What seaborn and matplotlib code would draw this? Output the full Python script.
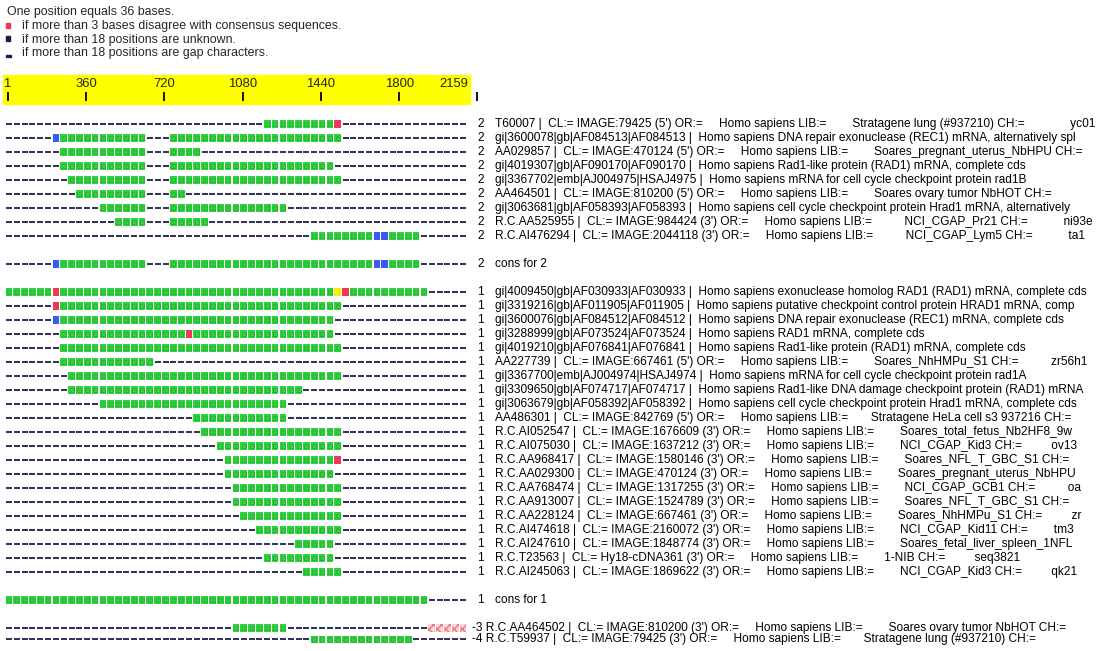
import numpy as np
import pandas as pd
import matplotlib
matplotlib.use("Agg")
import matplotlib.pyplot as plt
from matplotlib.patches import Rectangle
import seaborn as sns

# alignment rows, run-length coded per 36-base position:
# "-" gap, G agrees, R >3 bases disagree, B unknown, Y other, X hatched
group2_labels = [
    "T60007 |  CL:= IMAGE:79425 (5') OR:=     Homo sapiens LIB:=        Stratagene lung (#937210) CH:=              yc01",
    "gi|3600078|gb|AF084513|AF084513 |  Homo sapiens DNA repair exonuclease (REC1) mRNA, alternatively spl",
    "AA029857 |  CL:= IMAGE:470124 (5') OR:=     Homo sapiens LIB:=        Soares_pregnant_uterus_NbHPU CH:=",
    "gi|4019307|gb|AF090170|AF090170 |  Homo sapiens Rad1-like protein (RAD1) mRNA, complete cds",
    "gi|3367702|emb|AJ004975|HSAJ4975 |  Homo sapiens mRNA for cell cycle checkpoint protein rad1B",
    "AA464501 |  CL:= IMAGE:810200 (5') OR:=     Homo sapiens LIB:=        Soares ovary tumor NbHOT CH:=",
    "gi|3063681|gb|AF058393|AF058393 |  Homo sapiens cell cycle checkpoint protein Hrad1 mRNA, alternatively",
    "R.C.AA525955 |  CL:= IMAGE:984424 (3') OR:=     Homo sapiens LIB:=          NCI_CGAP_Pr21 CH:=           ni93e",
    "R.C.AI476294 |  CL:= IMAGE:2044118 (3') OR:=     Homo sapiens LIB:=          NCI_CGAP_Lym5 CH:=           ta1",
]
group2_runs = [
    "33- 9G 1R 16-",
    "6- 1B 11G 3- 22G 16-",
    "7- 11G 3- 4G 34-",
    "7- 11G 3- 21G 17-",
    "8- 10G 3- 22G 16-",
    "9- 9G 3- 2G 36-",
    "12- 6G 3- 15G 23-",
    "14- 4G 3- 5G 33-",
    "39- 8G 2B 4G 6-",
]
cons2_runs = "6- 1B 11G 3- 26G 2B 4G 6-"

group1_labels = [
    "gi|4009450|gb|AF030933|AF030933 |  Homo sapiens exonuclease homolog RAD1 (RAD1) mRNA, complete cds",
    "gi|3319216|gb|AF011905|AF011905 |  Homo sapiens putative checkpoint control protein HRAD1 mRNA, comp",
    "gi|3600076|gb|AF084512|AF084512 |  Homo sapiens DNA repair exonuclease (REC1) mRNA, complete cds",
    "gi|3288999|gb|AF073524|AF073524 |  Homo sapiens RAD1 mRNA, complete cds",
    "gi|4019210|gb|AF076841|AF076841 |  Homo sapiens Rad1-like protein (RAD1) mRNA, complete cds",
    "AA227739 |  CL:= IMAGE:667461 (5') OR:=     Homo sapiens LIB:=        Soares_NhHMPu_S1 CH:=          zr56h1",
    "gi|3367700|emb|AJ004974|HSAJ4974 |  Homo sapiens mRNA for cell cycle checkpoint protein rad1A",
    "gi|3309650|gb|AF074717|AF074717 |  Homo sapiens Rad1-like DNA damage checkpoint protein (RAD1) mRNA",
    "gi|3063679|gb|AF058392|AF058392 |  Homo sapiens cell cycle checkpoint protein Hrad1 mRNA, complete cds",
    "AA486301 |  CL:= IMAGE:842769 (5') OR:=     Homo sapiens LIB:=       Stratagene HeLa cell s3 937216 CH:=",
    "R.C.AI052547 |  CL:= IMAGE:1676609 (3') OR:=     Homo sapiens LIB:=        Soares_total_fetus_Nb2HF8_9w",
    "R.C.AI075030 |  CL:= IMAGE:1637212 (3') OR:=     Homo sapiens LIB:=        NCI_CGAP_Kid3 CH:=         ov13",
    "R.C.AA968417 |  CL:= IMAGE:1580146 (3') OR:=     Homo sapiens LIB:=        Soares_NFL_T_GBC_S1 CH:=",
    "R.C.AA029300 |  CL:= IMAGE:470124 (3') OR:=     Homo sapiens LIB:=        Soares_pregnant_uterus_NbHPU",
    "R.C.AA768474 |  CL:= IMAGE:1317255 (3') OR:=     Homo sapiens LIB:=        NCI_CGAP_GCB1 CH:=          oa",
    "R.C.AA913007 |  CL:= IMAGE:1524789 (3') OR:=     Homo sapiens LIB:=        Soares_NFL_T_GBC_S1 CH:=",
    "R.C.AA228124 |  CL:= IMAGE:667461 (3') OR:=     Homo sapiens LIB:=        Soares_NhHMPu_S1 CH:=         zr",
    "R.C.AI474618 |  CL:= IMAGE:2160072 (3') OR:=     Homo sapiens LIB:=        NCI_CGAP_Kid11 CH:=        tm3",
    "R.C.AI247610 |  CL:= IMAGE:1848774 (3') OR:=     Homo sapiens LIB:=        Soares_fetal_liver_spleen_1NFL",
    "R.C.T23563 |  CL:= Hy18-cDNA361 (3') OR:=     Homo sapiens LIB:=        1-NIB CH:=         seq3821",
    "R.C.AI245063 |  CL:= IMAGE:1869622 (3') OR:=     Homo sapiens LIB:=        NCI_CGAP_Kid3 CH:=         qk21",
]
group1_runs = [
    "6G 1R 35G 1Y 1R 10G 5-",
    "6- 1R 36G 16-",
    "6- 1B 35G 17-",
    "7- 16G 1R 18G 17-",
    "7- 36G 16-",
    "7- 12G 40-",
    "8- 35G 16-",
    "8- 30G 21-",
    "12- 24G 23-",
    "24- 12G 23-",
    "25- 18G 16-",
    "27- 16G 16-",
    "28- 14G 1R 16-",
    "28- 14G 17-",
    "29- 14G 16-",
    "29- 14G 16-",
    "30- 13G 16-",
    "32- 11G 16-",
    "37- 5G 17-",
    "33- 9G 17-",
    "38- 5G 16-",
]
cons1_runs = "54G 5-"

extra_counts = ["-3", "-4"]
extra_labels = [
    "R.C.AA464502 |  CL:= IMAGE:810200 (3') OR:=     Homo sapiens LIB:=        Soares ovary tumor NbHOT CH:=",
    "R.C.T59937 |  CL:= IMAGE:79425 (3') OR:=     Homo sapiens LIB:=       Stratagene lung (#937210) CH:=",
]
extra_runs = ["29- 7G 18- 5X", "39- 13G 7-"]

ruler_bases = [1, 360, 720, 1080, 1440, 1800, 2159]
bases_per_pos = 36

state_colors = {"G": "#2fd23c", "R": "#f0365a", "B": "#3a5af0", "Y": "#ffee00"}


def expand(runs):
    cells = []
    for tok in runs.split():
        cells += [tok[-1]] * int(tok[:-1])
    return cells


# build row table: (slot, count text, label, cells); blank slot between sections
rows = []
slot = 0
for lab, r in zip(group2_labels, group2_runs):
    rows.append((slot, "2", lab, expand(r))); slot += 1
slot += 1
rows.append((slot, "2", "cons for 2", expand(cons2_runs))); slot += 2
for lab, r in zip(group1_labels, group1_runs):
    rows.append((slot, "1", lab, expand(r))); slot += 1
slot += 1
rows.append((slot, "1", "cons for 1", expand(cons1_runs))); slot += 2
for c, lab, r in zip(extra_counts, extra_labels, extra_runs):
    rows.append((slot, c, lab, expand(r))); slot += 0.82

records = []
for s, _, _, cells in rows:
    for p, st in enumerate(cells):
        records.append({"pos": p, "row": s, "state": st})
df = pd.DataFrame(records)

# pixel layout
W, H = 1101, 651
PX_POS = 7.83      # pixels per position
X0 = 8.9           # pixel x of position 0 centre
ROW_PX = 14.0
Y0 = 124.0


def px2x(px):
    return (px - X0) / PX_POS


def py2r(py):
    return (py - Y0) / ROW_PX


sns.set_style("white")
plt.rcParams["font.family"] = ["Liberation Sans", "DejaVu Sans"]

fig = plt.figure(figsize=(W / 100, H / 100), dpi=100)
ax = fig.add_axes([0, 0, 1, 1])
ax.set_xlim(px2x(0), px2x(W))
ax.set_ylim(py2r(H), py2r(0))
ax.axis("off")

# gaps
gaps = df[df.state == "-"]
sns.scatterplot(data=gaps, x="pos", y="row", marker="_", color="#1c1c4a",
                s=17, linewidth=1.3, legend=False, ax=ax)

# blocks: slightly taller than wide
block = [(-0.44, -0.5), (0.44, -0.5), (0.44, 0.5), (-0.44, 0.5), (-0.44, -0.5)]
blocks = df[df.state.isin(list(state_colors))]
sns.scatterplot(data=blocks, x="pos", y="row", hue="state", palette=state_colors,
                marker=block, s=30, linewidth=0, legend=False, ax=ax)
greens = df[df.state == "G"]
ax.scatter(greens.pos, greens.row, marker=block, s=11, facecolor="none",
           edgecolor="#27b333", linewidth=0.6)

hatched = df[df.state == "X"]
ax.scatter(hatched.pos, hatched.row, marker=block, s=30, facecolor="#fbd6da",
           edgecolor="#ec7482", hatch="xxxx", linewidth=0)

# ruler
ax.add_patch(Rectangle((px2x(3), py2r(104)), px2x(470) - px2x(3),
                       py2r(75) - py2r(104), color="#ffff00", zorder=0))
tick_x = [b / bases_per_pos - 0.15 for b in ruler_bases]
ax.vlines(tick_x, py2r(92), py2r(101), color="black", lw=1.3)
for i, (b, tx) in enumerate(zip(ruler_bases, tick_x)):
    if i == 0:
        ax.text(px2x(3), py2r(84), str(b), ha="left", va="center", fontsize=9.4)
    elif i == len(ruler_bases) - 1:
        ax.text(px2x(468), py2r(84), str(b), ha="right", va="center", fontsize=9.4)
    else:
        ax.text(tx, py2r(84), str(b), ha="center", va="center", fontsize=9.4)

# row labels
for s, cnt, lab, _ in rows:
    kw = dict(fontsize=8.6, va="center", clip_on=False, color="black")
    if cnt.startswith("-"):
        ax.text(px2x(472), s, cnt + " " + lab, ha="left", **kw)
    else:
        ax.text(px2x(484), s, cnt, ha="right", **kw)
        ax.text(px2x(495), s, lab, ha="left", **kw)


# header
def ftext(px, py, t, **kw):
    fig.text(px / W, 1 - py / H, t, va="center", **kw)


ftext(7, 12, "One position equals 36 bases.", fontsize=8.9)
ftext(22, 26, "if more than 3 bases disagree with consensus sequences.", fontsize=8.9)
ftext(22, 39.5, "if more than 18 positions are unknown.", fontsize=8.9)
ftext(22, 53, "if more than 18 positions are gap characters.", fontsize=8.9)
fig.patches.append(Rectangle((6 / W, 1 - 28 / H), 4 / W, 5 / H,
                             color=state_colors["R"], transform=fig.transFigure))
fig.patches.append(Rectangle((6 / W, 1 - 41 / H), 4 / W, 5 / H,
                             color="#1c1c4a", transform=fig.transFigure))
fig.patches.append(Rectangle((6 / W, 1 - 57 / H), 5 / W, 1.6 / H,
                             color="#1c1c4a", transform=fig.transFigure))

fig.savefig("out.png", dpi=100)
